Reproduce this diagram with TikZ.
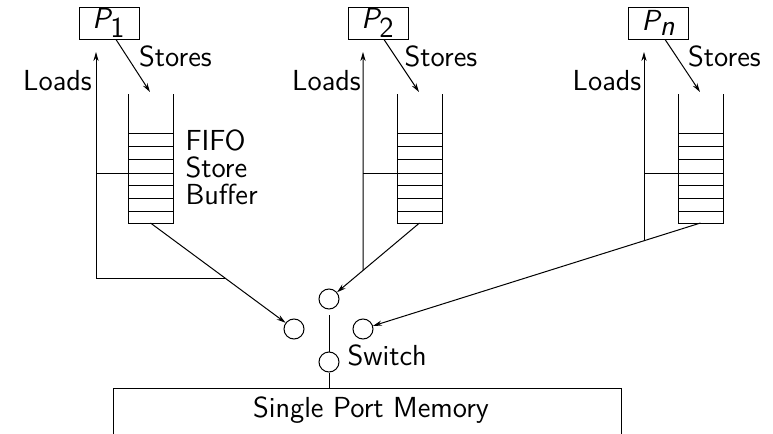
\documentclass[tikz,border=0pt]{standalone}
\usetikzlibrary{arrows.meta,calc}
\begin{document}
\begin{tikzpicture}[x=0.5pt,y=-0.5pt,line width=0.5pt,
  every node/.style={font=\sffamily\fontsize{14.5}{13.5}\selectfont,inner sep=0pt},
  proc/.style={draw,minimum width=30pt,minimum height=16pt},
  sw/.style={draw,circle,minimum size=10pt},
  arr/.style={-{Stealth[length=4.5pt,width=2.6pt]}},
  fifo/.pic={
    \draw (0,0) -- (0,129) -- (45,129) -- (45,0);
    \foreach \yy in {39,52,65,79,91,104,117} \draw (0,\yy) -- (45,\yy);
    \coordinate (-top) at (22,-2);
    \coordinate (-mid) at (0,79);
    \coordinate (-bot) at (22.5,129);
  }]
\useasboundingbox (0,0) rectangle (773,434);

% processors
\node[proc] (p1) at (109,23) {{\slshape P}$_{\textsf{1}}$};
\node[proc] (p2) at (378,23) {{\slshape P}$_{\textsf{2}}$};
\node[proc] (pn) at (658.5,23) {{\slshape P}$_{\textsf{\slshape n}}$};

% buffers
\pic (b1) at (128,94) {fifo};
\pic (b2) at (397,94) {fifo};
\pic (bn) at (678,94) {fifo};

% labels
\node (st1) at (175.5,56) {Stores};
\node (st2) at (441,56) {Stores};
\node (stn) at (724.5,56) {Stores};
\node (ld1t) at (57.5,80.5) {Loads};
\node (ld2t) at (326.5,80.5) {Loads};
\node (ldnt) at (607,80.5) {Loads};
\node[align=left,anchor=west] (fifotxt) at (185,167) {FIFO\\Store\\Buffer};

% stores arrows
\draw[arr] ([xshift=3.5pt]p1.south) -- (b1-top);
\draw[arr] ([xshift=3pt]p2.south) -- (b2-top);
\draw[arr] ([xshift=3.3pt]pn.south) -- (bn-top);

% switch circles
\node[sw] (c1) at (294,329) {};
\node[sw] (c2) at (329,299) {};
\node[sw] (c3) at (363,329) {};
\node[sw] (c4) at (329,362) {};
\node[anchor=west] (swt) at (347,355.5) {Switch};

% memory
\node[draw,anchor=north,minimum width=254pt,minimum height=60pt] (mem) at (367,388) {};
\node (memtxt) at (371,410) {Single Port Memory};

% buffer to switch
\draw[arr] (b1-bot) -- (c1);
\draw[arr] (b2-bot) -- (c2);
\draw[arr] (bn-bot) -- (c3);

% loads paths
\coordinate (ld1) at (96,52);
\coordinate (ld2) at (363,52);
\coordinate (ldn) at (644,52);
\coordinate (l1b) at (96,278);
\coordinate (l1r) at (300,278);
\coordinate (l2b) at (363,320);
\coordinate (lnb) at (644,320);
\draw[arr] (intersection of b1-bot--c1 and l1b--l1r) -- (l1b) -- (ld1);
\draw[arr] (intersection of b2-bot--c2 and ld2--l2b) -- (ld2);
\draw[arr] (intersection of bn-bot--c3 and ldn--lnb) -- (ldn);
\draw (ld1 |- b1-mid) -- (b1-mid);
\draw (ld2 |- b2-mid) -- (b2-mid);
\draw (ldn |- bn-mid) -- (bn-mid);

% switch lines
\coordinate (swtop) at (329,315);
\draw (swtop) -- (c4);
\draw (c4) -- (c4 |- mem.north);
\end{tikzpicture}
\end{document}
